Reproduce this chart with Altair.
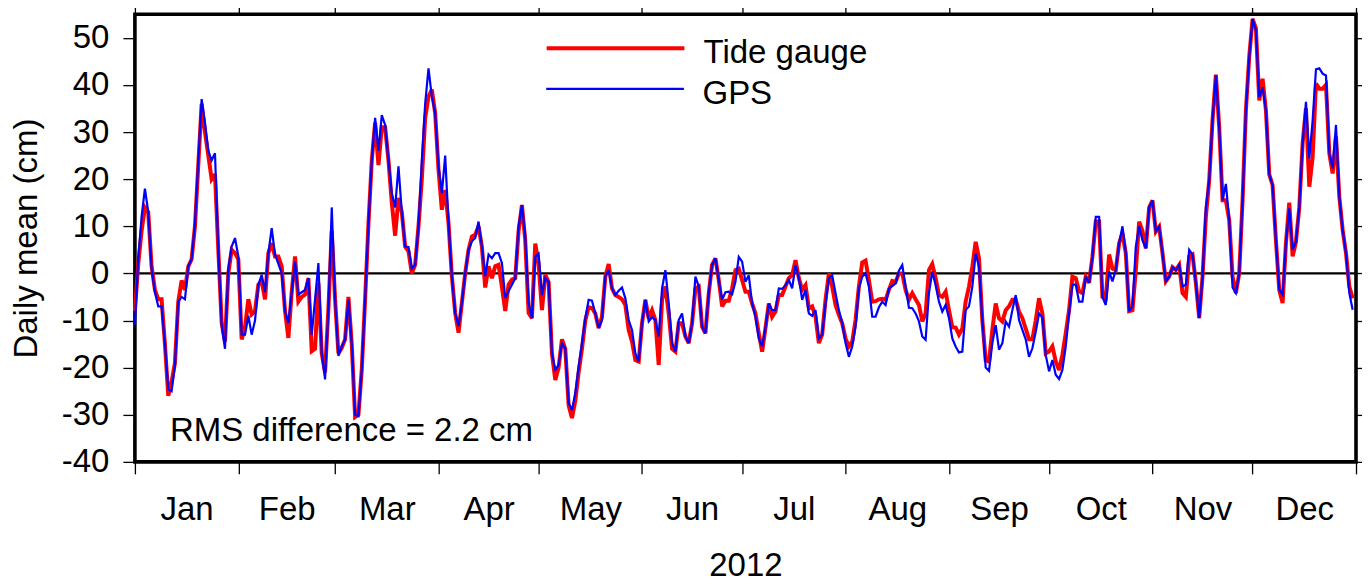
import altair as alt
import pandas as pd

# daily means, cm, one line per month
tide_gauge = (
    [-8, 2, 9, 14, 13, 1.5, -3.5, -5.5, -5.5, -15, -26, -23, -19, -6, -1.5, -3.5, 1.5, 3, 10, 23, 36, 30, 25, 20, 21, 5, -10.5, -14.5, 0, 5, 4.3]
    + [3, -14, -11.5, -5.5, -8.7, -8, -2.4, -1.7, -5.5, 4.3, 6.4, 3.6, 3.6, 1.5, -8, -13.7, -4, 3.6, -6, -5, -4.5, -1, -16.5, -16, -2, -17, -21, -7.5, 9]
    + [-5.5, -17, -15.8, -14, -5, -15, -30.5, -30, -20.4, -5.5, 10.5, 24, 32, 23, 31, 31, 24, 15, 8, 16, 13, 5.7, 4.7, 0, 1.8, 10, 20, 33, 37.5, 39, 34]
    + [22, 13.5, 17.7, 10.7, -0.6, -8.4, -12.6, -6.3, 0, 5, 7.8, 8.2, 10, 5.7, -3, 1.5, -1, 1.5, 1.8, -2.8, -8, -2.4, -1.3, -1, 9, 14.5, 7, -8.4, -9.5, 6.3]
    + [2, -7.8, -0.3, -1.8, -17, -22.6, -20, -14, -16, -28, -30.7, -27, -21, -16, -10, -7.2, -7.4, -8.5, -11.6, -9.2, -0.7, 2, -3.2, -4.6, -5, -5.5, -6.7, -12, -14.5, -18.4, -18.7]
    + [-10.6, -5.6, -9.5, -7.8, -9.9, -19.4, -5.6, -2.8, -8.5, -16, -16.6, -10.6, -10.6, -13.4, -14.8, -10.6, -3.2, -2.8, -11.3, -12.7, -4.2, 1.8, 3.2, -1.4, -7, -5.8, -5.8, -3.2, 0.7, 1]
    + [-1.4, -3.9, -3.9, -6.4, -8.5, -12.7, -16.6, -11.6, -6.4, -9.2, -8.1, -4.6, -4.6, -2.8, -1, -0.4, 2.8, -1, -3.5, -2.5, -7.4, -7, -9.2, -14.8, -13, -5.6, 0, -2.8, -6.7, -8.8, -10.6]
    + [-13.8, -15.5, -14.5, -9.9, -2.8, 2.3, 2.7, -1.4, -6, -5.9, -5.5, -5.4, -5.6, -3.5, -1.6, -1.8, 0, 0, -3.5, -5.6, -4.2, -5.5, -6.7, -10.2, -8.5, 0.7, 2, -1, -4.6, -5, -3.9]
    + [-7.8, -11.4, -11.5, -13, -11.7, -6, -2.8, 1.4, 6.7, 3.2, -9.9, -18.4, -18.7, -12, -6.4, -9.5, -10.2, -7.8, -7, -5.6, -5.6, -8.1, -9.5, -11.7, -14, -14, -10, -5.3, -8.5, -17]
    + [-16.6, -15.5, -18.7, -20.5, -17.3, -12.7, -7.8, -0.7, -1, -3.8, -4.2, -0.7, -2, 3.5, 11, 11, -5, -5.3, 4, 1, 0.7, 6.4, 8.5, 4.3, -8, -7.8, 0.7, 11, 9, 5.3, 14]
    + [15.5, 8.9, 9.9, 4.3, -1.7, -0.7, 1.3, 0.7, 1.8, -4.2, -5, 3.6, 4, -2, -9.5, -0.7, 12, 19.8, 32.5, 42.2, 31, 15.5, 15.5, 11.3, -0.7, -4.2, 0, 15.5, 34.6, 46]
    + [54, 52, 36.7, 41.3, 34.6, 21, 18.7, 7, -3.5, -6.3, 6.4, 15, 3.6, 6.7, 14, 27.6, 35, 18.4, 24.7, 40.3, 39.2, 39.2, 40, 25.5, 21.2, 29, 16.3, 9.2, 4.3, -2.8, -5.3]
)
gps = (
    [-10.9, 3, 12, 18, 13, 1, -4, -7, -7, -15, -24.6, -25, -19.5, -6, -5, -5.5, 1.5, 3, 10.5, 24, 37, 32, 26, 24, 25.5, 5, -11, -16, 1, 5.7, 7.5]
    + [3.6, -13, -13, -9, -13, -10, -2.4, -0.3, -4, 4.3, 9.6, 4, 2, 0, -8, -10.5, -4, 2.5, -4.5, -4, -3.5, -1, -13, -5.5, 2.2, -17, -22.5, -7.5, 14]
    + [-5.5, -17.5, -15.5, -14, -5.5, -15, -30, -30.3, -20.4, -5.5, 10.5, 24, 33, 26, 33.6, 31.5, 24, 17, 14, 22.7, 13, 5.7, 5.6, 1, 1.8, 10, 24, 36, 43.5, 37.5, 34]
    + [22.7, 17, 25, 10.7, -0.6, -8.4, -11.2, -6.3, 0, 5, 6.8, 7.5, 11, 5.7, -0.6, 4, 3.2, 4.3, 4.3, 2.2, -5.2, -3.8, -2.4, -1, 10, 14.5, 7.8, -6.3, -9.5, 3.5]
    + [4.2, -4.6, -1, -1.8, -17, -20.5, -19.4, -14.8, -16, -27.5, -29, -25.4, -19.8, -14.8, -9.5, -5.6, -5.8, -8.5, -11.6, -9.9, -0.7, 0.7, -3.2, -4.6, -3.7, -3, -5.3, -9.9, -12, -17, -18.7]
    + [-10.6, -5.6, -10.2, -9.3, -9.9, -13.4, -3.2, 0.7, -6.4, -14.8, -16.6, -9.9, -8.5, -13.4, -14.8, -10.6, -0.7, -2.8, -11.3, -12.7, -4.2, 1.8, 3.2, -1.4, -5.6, -4, -3.9, -4.4, -1.8, 3.5]
    + [2.5, -1.8, -0.4, -6.4, -9.2, -13.8, -15.5, -11.6, -6.4, -7.8, -7.8, -3.2, -3.3, -2.5, -1.4, -3.2, 1.8, -1, -5.6, -3.5, -8.5, -9, -7.8, -13.8, -13, -6.4, -1, -0.4, -4.2, -7.8, -10.6]
    + [-14.8, -17.7, -15.5, -11.3, -3.2, -0.7, 0, -2.8, -9.2, -9.2, -7.2, -6, -6.7, -3.2, -2.7, -2.1, 0.6, 1.8, -2.8, -7.3, -7.4, -8.5, -10.2, -13.4, -14.1, -4.2, 0.4, -2.5, -6, -8.1, -6.7]
    + [-9.5, -13.8, -15.5, -16.8, -16.6, -7.8, -7, -2.8, 4.2, 1.4, -9.9, -20, -20.7, -14.8, -11, -16.2, -14.8, -10.2, -11.3, -7.8, -4.6, -9.9, -12, -14, -17.7, -15.9, -12.4, -8.5, -9.3, -17.3]
    + [-20.8, -18.4, -21.5, -22.4, -20.5, -15.5, -8.5, -2.4, -2.4, -6, -6, -0.7, -2, 3.5, 12, 12, -5, -6.7, 0.4, -1.7, 0.7, 6.4, 10, 4.3, -8, -7, 5.7, 10, 7, 5.3, 14]
    + [15.5, 8.9, 9.9, 4.3, -1.7, -0.7, 1.3, 0.7, 1.8, -2.8, -2.4, 5, 4, -2, -9.5, -0.7, 14, 19.8, 32.5, 42, 31, 15.5, 19, 11.3, -3, -4.2, 0, 15.5, 34.6, 46]
    + [54, 51.6, 37.4, 39.5, 34.6, 21, 18.7, 7, -3.5, -4.5, 6.4, 13.8, 5, 6.7, 14, 27.6, 36.4, 24.4, 32.5, 43.3, 43.5, 42.4, 42, 25.5, 22.3, 31.5, 16.3, 9.2, 4.3, -4.2, -7.7]
)

month_starts = [f"2012-{m:02d}-01T00:00:00" for m in range(1, 13)] + ["2013-01-01T00:00:00"]
month_mids = [
    "2012-01-16T12:00:00", "2012-02-15T12:00:00", "2012-03-16T12:00:00", "2012-04-16T00:00:00",
    "2012-05-16T12:00:00", "2012-06-16T00:00:00", "2012-07-16T12:00:00", "2012-08-16T12:00:00",
    "2012-09-16T00:00:00", "2012-10-16T12:00:00", "2012-11-16T00:00:00", "2012-12-16T12:00:00",
]
y_ticks = [-40, -30, -20, -10, 0, 10, 20, 30, 40, 50]
note_date = ["2012-01-11T12:00:00"]
note_value = [-33.4]
note_text = ["RMS difference = 2.2 cm"]

dates = pd.date_range("2012-01-01", periods=len(gps), freq="D").strftime("%Y-%m-%dT%H:%M:%S")
df_wide = pd.DataFrame({"date": dates, "Tide gauge": tide_gauge, "GPS": gps})

FONT = "Liberation Sans"
FONT_SIZE = 33
x_scale = alt.Scale(domain=["2012-01-01T00:00:00", "2013-01-01T00:00:00"])
y_scale = alt.Scale(domain=[-40, 55], nice=False, zero=False)
tick_style = dict(domain=False, grid=False, tickColor="black", tickWidth=1.3, tickSize=12)


# one series with its own one-row legend, so the two rows can sit close together
def series_line(name, colour, line_width, legend_y, x_axis, y_axis):
    return (
        alt.Chart(df_wide)
        .transform_calculate(series=f"'{name}'")
        .mark_line(strokeJoin="miter", strokeMiterLimit=3, strokeWidth=line_width)
        .encode(
            x=alt.X("date:T", scale=x_scale, axis=x_axis),
            y=alt.Y(f"{name}:Q", scale=y_scale, axis=y_axis),
            color=alt.Color(
                "series:N",
                scale=alt.Scale(domain=[name], range=[colour]),
                legend=alt.Legend(
                    title=None, orient="none", legendX=410, legendY=legend_y, symbolType="M-1,-0.07L1,-0.07",
                    symbolSize=19000, symbolStrokeWidth=line_width, labelFont=FONT, labelFontSize=FONT_SIZE,
                    labelColor="black", labelOffset=17, labelLimit=400,
                ),
            ),
        )
    )


bottom_axis = alt.Axis(orient="bottom", values=month_starts, labels=False, title=None, **tick_style)
left_axis = alt.Axis(
    orient="left", values=y_ticks, labelExpr="'' + datum.value", title="Daily mean (cm)", labelFont=FONT,
    labelFontSize=FONT_SIZE, labelColor="black", labelPadding=14, titleFont=FONT, titleFontSize=FONT_SIZE,
    titleFontWeight="normal", titleColor="black", titlePadding=18, **tick_style,
)
tide_line = series_line("Tide gauge", "#ff0000", 4, -32, bottom_axis, left_axis)
gps_line = series_line("GPS", "#0000ff", 2.2, 9, None, None)

# zero line
zero_line = alt.Chart(pd.DataFrame({"y": [0]})).mark_rule(color="black", strokeWidth=2.4).encode(y=alt.Y("y:Q", scale=y_scale, axis=None))

# invisible layer just for the month names between the ticks
month_names = (
    alt.Chart(df_wide)
    .mark_line(opacity=0)
    .encode(
        x=alt.X(
            "date:T",
            scale=x_scale,
            axis=alt.Axis(
                orient="bottom", values=month_mids, labelExpr="timeFormat(datum.value, '%b')", domain=False, grid=False,
                ticks=False, labelFont=FONT, labelFontSize=FONT_SIZE, labelColor="black", labelPadding=32, labelFlush=False,
                labelOverlap=False, title="2012", titleFont=FONT, titleFontSize=FONT_SIZE, titleFontWeight="normal",
                titleColor="black", titlePadding=23,
            ),
        ),
        y=alt.Y("GPS:Q", scale=y_scale, axis=None),
    )
)

# ticks on the top and right sides of the frame
top_right = (
    alt.Chart(df_wide)
    .mark_line(opacity=0)
    .encode(
        x=alt.X("date:T", scale=x_scale, axis=alt.Axis(orient="top", values=month_starts, labels=False, title=None, **tick_style)),
        y=alt.Y("GPS:Q", scale=y_scale, axis=alt.Axis(orient="right", values=y_ticks, labels=False, title=None, **tick_style)),
    )
)

note = (
    alt.Chart(pd.DataFrame({"date": note_date, "value": note_value, "text": note_text}))
    .mark_text(align="left", font=FONT, fontSize=FONT_SIZE, color="black")
    .encode(x=alt.X("date:T", scale=x_scale, axis=None), y=alt.Y("value:Q", scale=y_scale, axis=None), text="text:N")
)

chart = (
    alt.layer(top_right, month_names, zero_line, tide_line, gps_line, note)
    .resolve_axis(x="independent", y="independent")
    .resolve_scale(color="independent")
    .resolve_legend(color="independent")
    .properties(
        width=1222,
        height=448,
        autosize=alt.AutoSizeParams(type="none"),
        padding={"left": 127, "top": 6, "right": 6, "bottom": 122},
        background="white",
    )
    .configure_view(stroke="black", strokeWidth=3.6)
)

chart.save("out.html", embed_options={"renderer": "svg", "actions": False})
